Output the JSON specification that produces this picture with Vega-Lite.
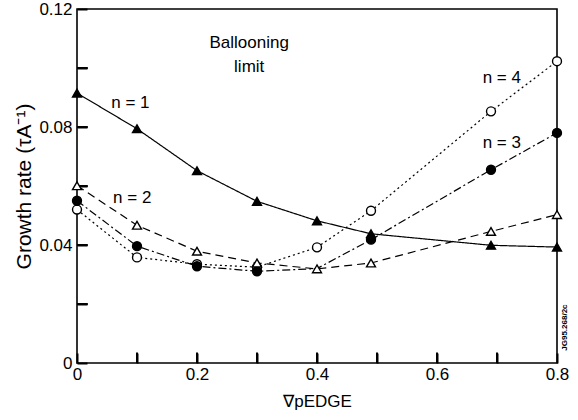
{
  "$schema": "https://vega.github.io/schema/vega-lite/v6.json",
  "width": 480,
  "height": 354,
  "autosize": "none",
  "padding": {"left": 77, "top": 9, "right": 21, "bottom": 57},
  "background": "white",
  "config": {
    "font": "Liberation Sans",
    "view": {"stroke": "black", "strokeWidth": 1.6, "fill": null},
    "axis": {"domain": false, "grid": false, "zindex": 2, "labelColor": "black", "titleColor": "black", "labelFontSize": 17, "titleFontWeight": "normal"}
  },
  "datasets": {
    "series": [
      {"n": "4", "x": 0, "y": 0.052}, {"n": "4", "x": 0.1, "y": 0.0358}, {"n": "4", "x": 0.2, "y": 0.0335}, {"n": "4", "x": 0.3, "y": 0.0325}, {"n": "4", "x": 0.4, "y": 0.0392}, {"n": "4", "x": 0.49, "y": 0.0516}, {"n": "4", "x": 0.69, "y": 0.0853}, {"n": "4", "x": 0.8, "y": 0.1023},
      {"n": "3", "x": 0, "y": 0.055}, {"n": "3", "x": 0.1, "y": 0.0396}, {"n": "3", "x": 0.2, "y": 0.0328}, {"n": "3", "x": 0.3, "y": 0.0311}, {"n": "3", "x": 0.4, "y": 0.032}, {"n": "3", "x": 0.49, "y": 0.0418}, {"n": "3", "x": 0.69, "y": 0.0655}, {"n": "3", "x": 0.8, "y": 0.078},
      {"n": "1", "x": 0, "y": 0.0915}, {"n": "1", "x": 0.1, "y": 0.0794}, {"n": "1", "x": 0.2, "y": 0.0652}, {"n": "1", "x": 0.3, "y": 0.0548}, {"n": "1", "x": 0.4, "y": 0.0482}, {"n": "1", "x": 0.49, "y": 0.0438}, {"n": "1", "x": 0.69, "y": 0.0399}, {"n": "1", "x": 0.8, "y": 0.0393},
      {"n": "2", "x": 0, "y": 0.0601}, {"n": "2", "x": 0.1, "y": 0.0467}, {"n": "2", "x": 0.2, "y": 0.0379}, {"n": "2", "x": 0.3, "y": 0.0339}, {"n": "2", "x": 0.4, "y": 0.0319}, {"n": "2", "x": 0.49, "y": 0.0339}, {"n": "2", "x": 0.69, "y": 0.0446}, {"n": "2", "x": 0.8, "y": 0.0503}
    ],
    "labels": [
      {"label": "n = 1", "x": 0.089, "y": 0.088},
      {"label": "n = 2", "x": 0.092, "y": 0.0559},
      {"label": "n = 4", "x": 0.708, "y": 0.0966},
      {"label": "n = 3", "x": 0.708, "y": 0.0746},
      {"label": "Ballooning", "x": 0.287, "y": 0.1085},
      {"label": "limit", "x": 0.287, "y": 0.1005}
    ],
    "yticks": [{"t": 0.02}, {"t": 0.04}, {"t": 0.06}, {"t": 0.08}, {"t": 0.1}],
    "xticks": [{"t": 0.1}, {"t": 0.2}, {"t": 0.3}, {"t": 0.4}, {"t": 0.5}, {"t": 0.6}, {"t": 0.7}]
  },
  "layer": [
    {
      "data": {"name": "series"},
      "mark": {"type": "line", "color": "black", "strokeWidth": 1.2},
      "encoding": {
        "x": {"field": "x", "type": "quantitative", "scale": {"domain": [0, 0.8], "nice": false},
          "axis": {"values": [0, 0.1, 0.2, 0.3, 0.4, 0.5, 0.6, 0.7, 0.8], "ticks": true, "tickColor": "#000000", "tickOpacity": 1, "tickWidth": 2, "offset": -10, "tickSize": 10, "labelPadding": 3, "labelExpr": "round(datum.value*10) % 2 == 0 ? (datum.value == 0 ? '0' : format(datum.value, '.1f')) : ''", "title": "∇pEDGE", "titleFontSize": 17, "titlePadding": 11, "labelFlush": false}},
        "y": {"field": "y", "type": "quantitative", "scale": {"domain": [0, 0.12], "nice": false},
          "axis": {"values": [0, 0.02, 0.04, 0.06, 0.08, 0.1, 0.12], "ticks": true, "tickColor": "#000000", "tickOpacity": 1, "tickWidth": 2, "offset": -10, "tickSize": 10, "labelPadding": 5, "labelExpr": "round(datum.value*50) % 2 == 0 ? (datum.value == 0 ? '0' : format(datum.value, '.2f')) : ''", "title": "Growth rate (τA⁻¹)", "titleFontSize": 21, "titlePadding": 4, "labelFlush": false}},
        "detail": {"field": "n"},
        "strokeDash": {"field": "n", "type": "nominal", "scale": {"domain": ["1", "2", "3", "4"], "range": [[1, 0], [8, 5], [8, 3, 2, 3], [2, 3]]}, "legend": null}
      }
    },
    {
      "data": {"name": "yticks"},
      "mark": {"type": "rule", "color": "black", "strokeWidth": 2},
      "encoding": {
        "y": {"field": "t", "type": "quantitative"},
        "x": {"datum": 0, "type": "quantitative"},
        "x2": {"datum": 0.018}
      }
    },
    {
      "data": {"name": "xticks"},
      "mark": {"type": "rule", "color": "black", "strokeWidth": 2},
      "encoding": {
        "x": {"field": "t", "type": "quantitative"},
        "y": {"datum": 0, "type": "quantitative"},
        "y2": {"datum": 0.0036}
      }
    },
    {
      "mark": {"type": "rule", "color": "black", "strokeWidth": 1.3},
      "encoding": {"x": {"datum": 0.4, "type": "quantitative"}}
    },
    {
      "data": {"name": "series"},
      "transform": [{"filter": "!(datum.n == '3' && datum.x == 0.4)"}],
      "mark": {"type": "point", "stroke": "black", "strokeWidth": 1.4, "opacity": 1, "size": 80},
      "encoding": {
        "x": {"field": "x", "type": "quantitative"},
        "y": {"field": "y", "type": "quantitative"},
        "shape": {"field": "n", "type": "nominal", "scale": {"domain": ["1", "2", "3", "4"], "range": ["triangle-up", "triangle-up", "circle", "circle"]}, "legend": null},
        "fill": {"field": "n", "type": "nominal", "scale": {"domain": ["1", "2", "3", "4"], "range": ["black", "white", "black", "white"]}, "legend": null}
      }
    },
    {
      "data": {"name": "labels"},
      "mark": {"type": "text", "fontSize": 17, "color": "black", "align": "center", "baseline": "middle"},
      "encoding": {
        "x": {"field": "x", "type": "quantitative"},
        "y": {"field": "y", "type": "quantitative"},
        "text": {"field": "label"}
      }
    },
    {
      "data": {"values": [{"label": "JG95.268/2c", "x": 0.814, "y": 0.012}]},
      "mark": {"type": "text", "fontSize": 8, "fontWeight": "bold", "angle": 270, "color": "black", "align": "center", "baseline": "middle", "clip": false},
      "encoding": {
        "x": {"field": "x", "type": "quantitative"},
        "y": {"field": "y", "type": "quantitative"},
        "text": {"field": "label"}
      }
    }
  ]
}
